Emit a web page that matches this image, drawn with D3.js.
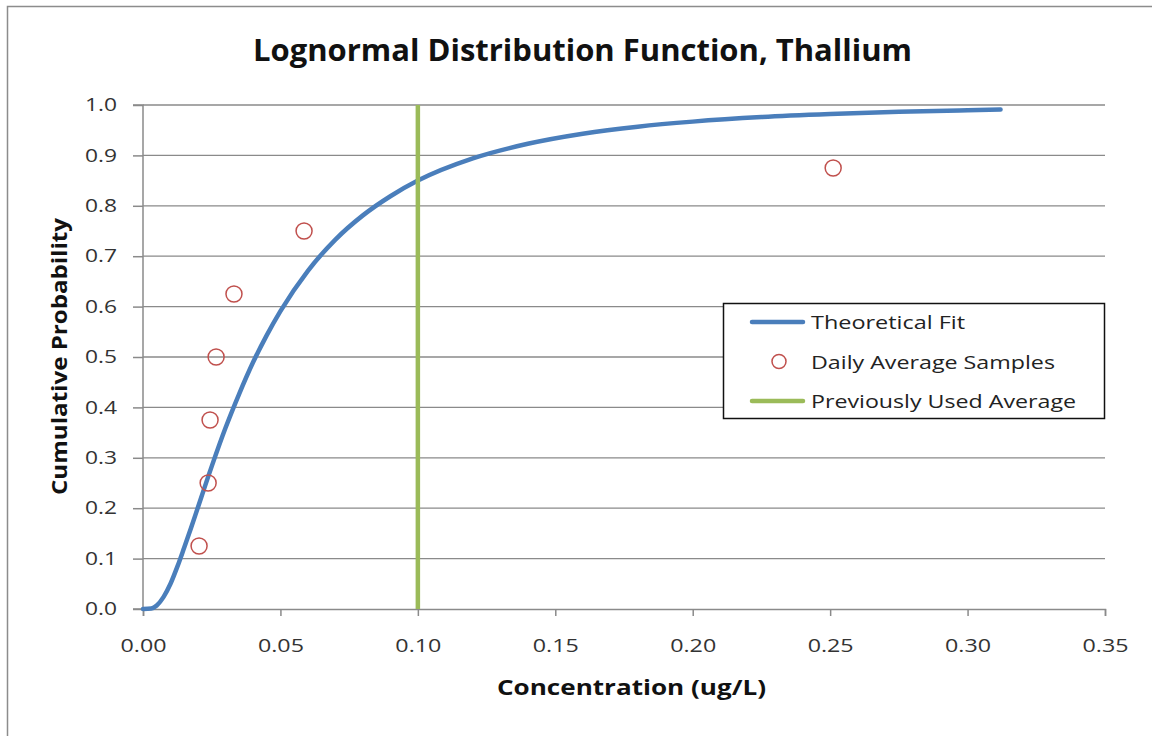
<!DOCTYPE html>
<html><head><meta charset="utf-8">
<script src="https://cdn.jsdelivr.net/npm/d3@7"></script>
<style>body{margin:0;background:#fff;} text{font-family:"Open Sans",Lato,sans-serif;}</style>
</head><body><svg id="c" width="1152" height="736"></svg>
<script>
const title = "Lognormal Distribution Function, Thallium";
const xTitle = "Concentration (ug/L)";
const yTitle = "Cumulative Probability";
const xTicks = [0, 0.05, 0.10, 0.15, 0.20, 0.25, 0.30, 0.35];
const yTicks = [0, 0.1, 0.2, 0.3, 0.4, 0.5, 0.6, 0.7, 0.8, 0.9, 1.0];
// Theoretical fit curve
const fitX = [0, 0.003, 0.005, 0.0075, 0.010, 0.0125, 0.015, 0.0175, 0.020, 0.025, 0.030, 0.035, 0.040, 0.045, 0.050, 0.060, 0.070, 0.080, 0.090, 0.100, 0.120, 0.140, 0.160, 0.180, 0.200, 0.225, 0.250, 0.275, 0.300, 0.312];
const fitY = [0, 0.001, 0.007, 0.024, 0.050, 0.084, 0.122, 0.161, 0.202, 0.283, 0.359, 0.427, 0.489, 0.543, 0.591, 0.671, 0.733, 0.781, 0.819, 0.850, 0.894, 0.923, 0.943, 0.957, 0.967, 0.976, 0.982, 0.9865, 0.9896, 0.991];
// Daily average samples
const sampleX = [0.0204, 0.0237, 0.0244, 0.0266, 0.0331, 0.0586, 0.2511];
const sampleY = [0.125, 0.25, 0.375, 0.5, 0.625, 0.75, 0.875];
// Previously used average
const prevAvg = 0.10;
const legendLabels = ["Theoretical Fit", "Daily Average Samples", "Previously Used Average"];

const svg = d3.select("#c");
const x = d3.scaleLinear().domain([0, 0.35]).range([143, 1105]);
const y = d3.scaleLinear().domain([0, 1]).range([609, 105]);

// stretch text to a target width
function fitWidth(sel, target) {
  sel.attr("textLength", target).attr("lengthAdjust", "spacingAndGlyphs");
}

// outer chart border
svg.append("rect").attr("x", 7.5).attr("y", 6.5).attr("width", 1200).attr("height", 800)
  .attr("fill", "none").attr("stroke", "#8c8c8c").attr("stroke-width", 1.5);

// gridlines
svg.append("g").selectAll("line").data(yTicks.slice(1)).join("line")
  .attr("x1", x(0)).attr("x2", x(0.35)).attr("y1", d => y(d)).attr("y2", d => y(d))
  .attr("stroke", "#8a8a8a").attr("stroke-width", 1.3);

// axes
const yAxis = d3.axisLeft(y).tickValues(yTicks).tickFormat(d3.format(".1f")).tickSize(10).tickPadding(16);
const gy = svg.append("g").attr("transform", `translate(${x(0)},0)`).call(yAxis);
const xAxis = d3.axisBottom(x).tickValues(xTicks).tickFormat(d3.format(".2f")).tickSize(7).tickPadding(23);
const gx = svg.append("g").attr("transform", `translate(0,${y(0)})`).call(xAxis);
[gx, gy].forEach(g => {
  g.select(".domain").attr("stroke", "#8a8a8a").attr("stroke-width", 1.5);
  g.selectAll(".tick line").attr("stroke", "#8a8a8a").attr("stroke-width", 1.5);
  g.selectAll(".tick text").attr("fill", "#333").style("font-size", "18px").style("font-family", "'Open Sans', sans-serif");
});
gy.select(".domain").attr("d", `M-10,${y(1)}H0V${y(0)}H-10`);
gy.selectAll(".tick text").call(fitWidth, 32);
gx.selectAll(".tick text").call(fitWidth, 46);

// fit line
const fitData = fitX.map((v, i) => [v, fitY[i]]);
svg.append("path").datum(fitData)
  .attr("d", d3.line().x(d => x(d[0])).y(d => y(d[1])).curve(d3.curveMonotoneX))
  .attr("fill", "none").attr("stroke", "#4a7ebb").attr("stroke-width", 4.5).attr("stroke-linecap", "round");

// previously used average
svg.append("line").attr("x1", x(prevAvg)).attr("x2", x(prevAvg)).attr("y1", y(1)).attr("y2", y(0))
  .attr("stroke", "#9bbb59").attr("stroke-width", 4.5);

// samples
svg.append("g").selectAll("circle").data(sampleX.map((v, i) => [v, sampleY[i]])).join("circle")
  .attr("cx", d => x(d[0])).attr("cy", d => y(d[1])).attr("r", 8)
  .attr("fill", "none").attr("stroke", "#c0504d").attr("stroke-width", 1.5);

// titles
svg.append("text").attr("x", 582.5).attr("y", 61).attr("text-anchor", "middle")
  .style("font-size", "30px").style("font-weight", "bold").attr("fill", "#111").text(title)
  .call(fitWidth, 659);
svg.append("text").attr("x", 631.5).attr("y", 695).attr("text-anchor", "middle")
  .style("font-size", "21px").style("font-weight", "bold").attr("fill", "#111").text(xTitle)
  .call(fitWidth, 269);
svg.append("text").attr("transform", "translate(67,356.5) rotate(-90)").attr("text-anchor", "middle")
  .style("font-size", "21px").style("font-weight", "bold").attr("fill", "#111").text(yTitle)
  .call(fitWidth, 277);

// legend
const lg = svg.append("g");
lg.append("rect").attr("x", 723.5).attr("y", 303.5).attr("width", 381).attr("height", 115)
  .attr("fill", "#fff").attr("stroke", "#111").attr("stroke-width", 1.5);
const ly = [322, 361.5, 401];
lg.append("line").attr("x1", 752).attr("x2", 803).attr("y1", ly[0]).attr("y2", ly[0])
  .attr("stroke", "#4a7ebb").attr("stroke-width", 4.5).attr("stroke-linecap", "round");
lg.append("circle").attr("cx", 779).attr("cy", ly[1]).attr("r", 7)
  .attr("fill", "none").attr("stroke", "#c0504d").attr("stroke-width", 1.5);
lg.append("line").attr("x1", 752).attr("x2", 803).attr("y1", ly[2]).attr("y2", ly[2])
  .attr("stroke", "#9bbb59").attr("stroke-width", 4.5).attr("stroke-linecap", "round");
const legendW = [154, 244, 265];
lg.selectAll("text.l").data(legendLabels).join("text").attr("class", "l")
  .attr("x", 811).attr("y", (d, i) => ly[i] + 7).style("font-size", "18.5px").attr("fill", "#222").text(d => d)
  .each(function(d, i) { d3.select(this).call(fitWidth, legendW[i]); });
</script></body></html>
